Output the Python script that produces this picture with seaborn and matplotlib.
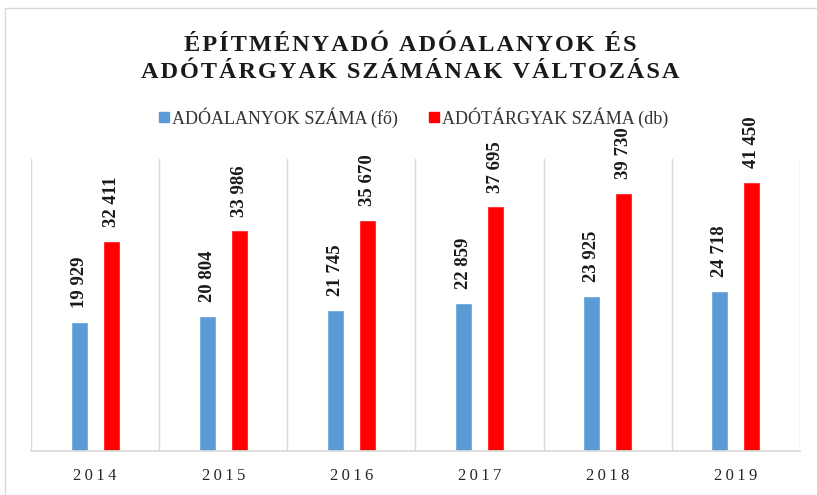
import numpy as np
import pandas as pd
import matplotlib
matplotlib.use("Agg")
import matplotlib.pyplot as plt
import seaborn as sns
from matplotlib.lines import Line2D

# --- DATA ---
years = ["2014", "2015", "2016", "2017", "2018", "2019"]
adoalanyok = [19929, 20804, 21745, 22859, 23925, 24718]
adotargyak = [32411, 33986, 35670, 37695, 39730, 41450]
series_names = ["ADÓALANYOK SZÁMA (fő)", "ADÓTÁRGYAK SZÁMA (db)"]
colors = ["#5B9BD5", "#FF0000"]

df = pd.DataFrame({
    "year": years * 2,
    "value": adoalanyok + adotargyak,
    "series": [series_names[0]] * len(years) + [series_names[1]] * len(years),
})

sns.set_theme(style="white")
plt.rcParams['font.family'] = ['Liberation Serif', 'DejaVu Serif']


def spaced(s, sep="\u2009"):
    return sep.join(s)


fig = plt.figure(figsize=(8.17, 4.95), dpi=100)
ax = fig.add_axes([31 / 817, 44 / 495, 769 / 817, 292 / 495])

sns.barplot(data=df, x="year", y="value", hue="series", palette=colors,
            width=0.5, gap=0.47, ax=ax, legend=False, saturation=1)

ax.set_ylim(0, 45000)
ax.set_xlim(-0.5, len(years) - 0.5)
ax.set_yticks([])
ax.set_xlabel("")
ax.set_ylabel("")

# vertical gridlines at category boundaries
ax.set_xticks(np.arange(-0.5, len(years), 1), minor=True)
ax.grid(True, which="minor", axis="x", color="#D9D9D9", linewidth=1)
ax.grid(False, which="major")
ax.tick_params(axis="x", which="minor", length=5, color="#D9D9D9")
ax.tick_params(axis="x", which="major", length=0, pad=12)
ax.set_xticks(range(len(years)))
ax.set_xticklabels([spaced(y) for y in years], fontsize=12, color="#262626")

for side in ["left", "right", "top"]:
    ax.spines[side].set_visible(False)
ax.spines["bottom"].set_color("#D9D9D9")

# value labels
for cont in ax.containers:
    labels = [f"{int(v):,}".replace(",", " ") for v in cont.datavalues]
    ax.bar_label(cont, labels=labels, rotation=90, padding=10,
                 fontsize=13.5, fontweight="bold", color="#1a1a1a")

# title
fig.text(0.502, 0.909, spaced("ÉPÍTMÉNYADÓ ADÓALANYOK ÉS", "\u200a"), ha="center", va="center",
         fontsize=17.5, fontweight="bold", color="#1a1a1a")
fig.text(0.502, 0.854, spaced("ADÓTÁRGYAK SZÁMÁNAK VÁLTOZÁSA", "\u200a"), ha="center", va="center",
         fontsize=17.5, fontweight="bold", color="#1a1a1a")

# legend
handles = [Line2D([0], [0], marker="s", linestyle="", markersize=7,
                  markerfacecolor=c, markeredgecolor=c) for c in colors]
fig.legend(handles, series_names, loc="center", bbox_to_anchor=(0.505, 0.763),
           ncol=2, frameon=False, fontsize=13, handletextpad=0.05,
           columnspacing=1.6, handlelength=0.8,
           labelcolor="#333333")

# outer chart border (partially visible)
fig.add_artist(Line2D([5 / 817, 1], [1 - 8 / 495, 1 - 8 / 495], color="#D9D9D9", lw=1))
fig.add_artist(Line2D([5 / 817, 5 / 817], [0, 1 - 8 / 495], color="#D9D9D9", lw=1))

fig.savefig("out.png", dpi=100, facecolor="white")
